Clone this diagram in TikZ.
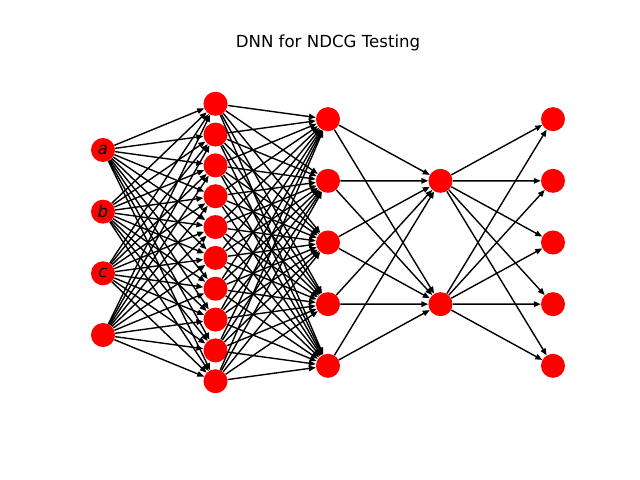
\documentclass[tikz,border=0pt]{standalone}
\usepackage{fontspec}
\setmainfont{DejaVu Sans}
\usetikzlibrary{arrows.meta}

\begin{document}
\begin{tikzpicture}[x=0.01in,y=-0.01in]
	\tikzstyle{every node}=[font=\fontsize{12}{14}\selectfont]
	\tikzstyle{neuron}=[circle, fill=red, minimum size=0.24in, inner sep=0pt, font=\fontsize{12}{14}\selectfont\itshape]
	\tikzstyle{conn}=[-{Triangle[length=5pt,width=4pt]}, line width=1bp, black]
	
	\useasboundingbox (0,0) rectangle (640,480);
	
	\node (title) at (328,43) {DNN for NDCG Testing};
	
	% layers
	\foreach \i/\t in {1/a,2/b,3/c,4/{}}
		\node[neuron] (in-\i) at (103,{242.5+61.67*(\i-2.5)}) {\t};
	\foreach \i in {1,...,10}
		\node[neuron] (h1-\i) at (215.5,{242.5+30.83*(\i-5.5)}) {};
	\foreach \i in {1,...,5}
		\node[neuron] (h2-\i) at (328,{242.5+61.67*(\i-3)}) {};
	\foreach \i in {1,2}
		\node[neuron] (h3-\i) at (440.5,{242.5+123.33*(\i-1.5)}) {};
	\foreach \i in {1,...,5}
		\node[neuron] (out-\i) at (553,{242.5+61.67*(\i-3)}) {};
	
	% connections
	\foreach \i in {1,...,4}
		\foreach \j in {1,...,10}
			\draw[conn] (in-\i) -- (h1-\j);
	\foreach \i in {1,...,10}
		\foreach \j in {1,...,5}
			\draw[conn] (h1-\i) -- (h2-\j);
	\foreach \i in {1,...,5}
		\foreach \j in {1,2}
			\draw[conn] (h2-\i) -- (h3-\j);
	\foreach \i in {1,2}
		\foreach \j in {1,...,5}
			\draw[conn] (h3-\i) -- (out-\j);
	
\end{tikzpicture}
\end{document}
